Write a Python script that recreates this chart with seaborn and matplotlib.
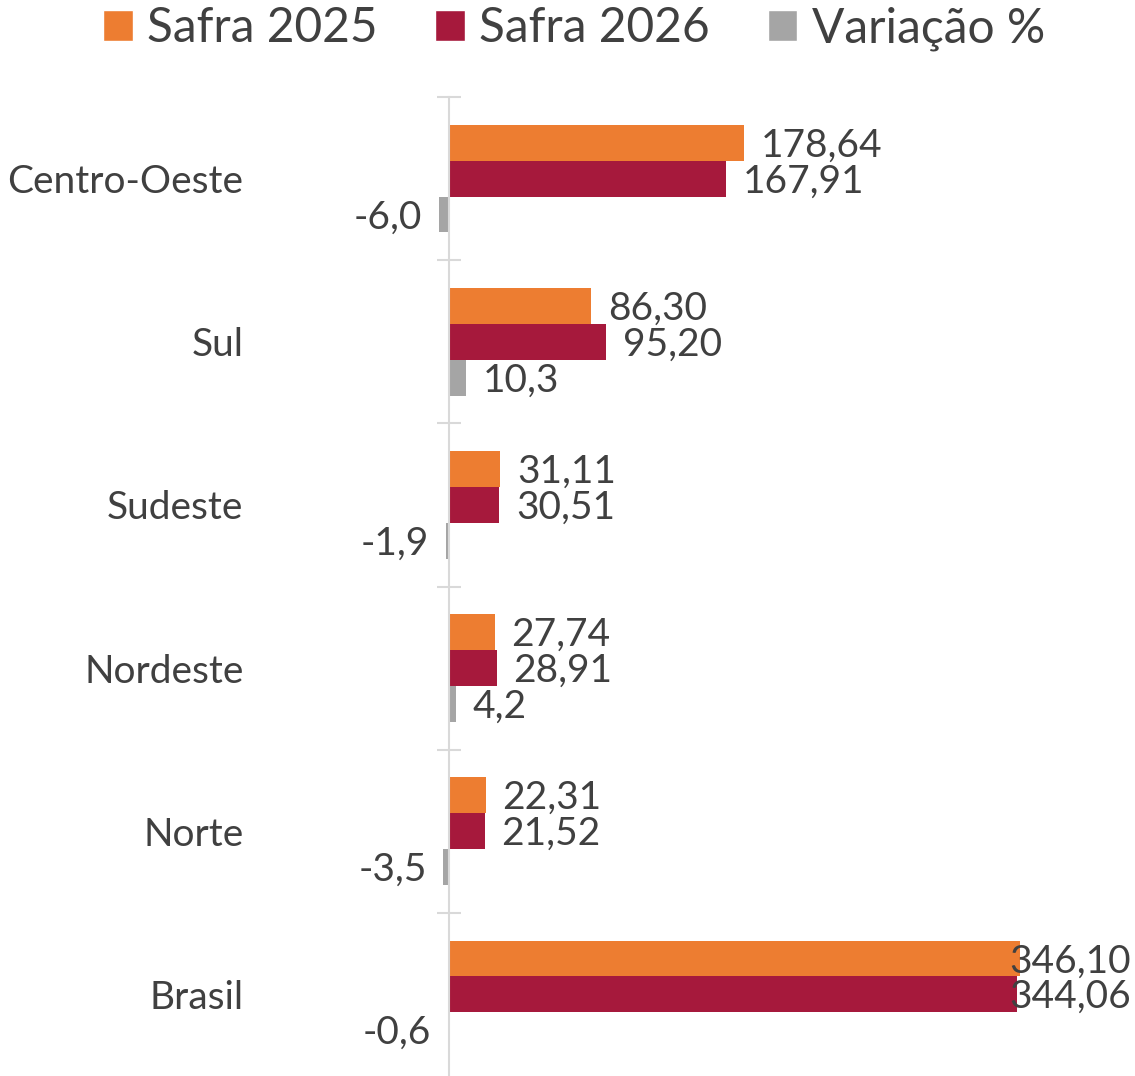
import numpy as np
import pandas as pd
import matplotlib
matplotlib.use('Agg')
import matplotlib.pyplot as plt
import seaborn as sns
from matplotlib.patches import Patch
from matplotlib.ticker import FixedLocator

# dados (mil toneladas / %)
regioes = ['Centro-Oeste', 'Sul', 'Sudeste', 'Nordeste', 'Norte', 'Brasil']
safra_2025 = [178.64, 86.30, 31.11, 27.74, 22.31, 346.10]
safra_2026 = [167.91, 95.20, 30.51, 28.91, 21.52, 344.06]
variacao = [-6.0, 10.3, -1.9, 4.2, -3.5, -0.6]
series = ['Safra 2025', 'Safra 2026', 'Variação %']
cores = ['#ED7D31', '#A6193C', '#A5A5A5']
decimais = [2, 2, 1]

df = pd.DataFrame({
    'Região': regioes * 3,
    'Série': np.repeat(series, len(regioes)),
    'Valor': safra_2025 + safra_2026 + variacao,
})

sns.set_style('white')
plt.rcParams['font.family'] = ['Lato', 'DejaVu Sans']
cor_texto = '#404040'
cor_eixo = '#D9D9D9'
fs = 28

W, H = 1135, 1076
fig = plt.figure(figsize=(W / 100, H / 100), dpi=100)
ax = fig.add_axes([300 / W, 0, (W - 300) / W, (H - 97) / H])

sns.barplot(data=df, x='Valor', y='Região', hue='Série', palette=cores,
            width=0.66, saturation=1, orient='h', ax=ax, legend=False,
            linewidth=0)

escala = 1.65  # px por unidade
ax.set_xlim(-(449 - 300) / escala, (W - 449) / escala)
ax.set_ylim(len(regioes) - 0.5, -0.5)

for s in ['top', 'right', 'bottom']:
    ax.spines[s].set_visible(False)
ax.spines['left'].set_position(('data', 0))
ax.spines['left'].set_color(cor_eixo)
ax.spines['left'].set_linewidth(1.5)
ax.set_xticks([])
ax.set_xlabel('')
ax.set_ylabel('')
ax.yaxis.set_minor_locator(FixedLocator(np.arange(-0.5, len(regioes) - 0.5, 1)))
ax.tick_params(axis='y', which='major', left=True, length=0, pad=148,
               labelsize=fs, labelcolor=cor_texto)
ax.tick_params(axis='y', which='minor', left=True, length=17, width=1.5,
               direction='inout', color=cor_eixo)

# rótulos dos valores
rotulos = []
for cont, dec in zip(ax.containers, decimais):
    for barra in cont:
        v = barra.get_width()
        y = barra.get_y() + barra.get_height() / 2
        txt = f'{v:.{dec}f}'.replace('.', ',')
        if v >= 0:
            t = ax.annotate(txt, (v, y), xytext=(12, -2), textcoords='offset points',
                            ha='left', va='center', fontsize=fs, color=cor_texto)
        else:
            t = ax.annotate(txt, (v, y), xytext=(-12, -2), textcoords='offset points',
                            ha='right', va='center', fontsize=fs, color=cor_texto)
        rotulos.append((t, y))

fig.canvas.draw()
renderer = fig.canvas.get_renderer()
for t, y in rotulos:
    if t.get_window_extent(renderer).x1 > W - 2:
        t.remove()
        ax.annotate(t.get_text(), (1.0, y), xycoords=('axes fraction', 'data'),
                    xytext=(-3, -2), textcoords='offset points', ha='right',
                    va='center', fontsize=fs, color=cor_texto)

handles = [Patch(facecolor=c, label=s) for c, s in zip(cores, series)]
fig.legend(handles=handles, loc='upper center', bbox_to_anchor=(574 / W, 1.012),
           ncol=3, frameon=False, fontsize=34.5, handlelength=0.62,
           handleheight=0.62, handletextpad=0.3, columnspacing=1.2,
           borderaxespad=0.0, labelcolor=cor_texto)

fig.savefig('out.png', dpi=100)
